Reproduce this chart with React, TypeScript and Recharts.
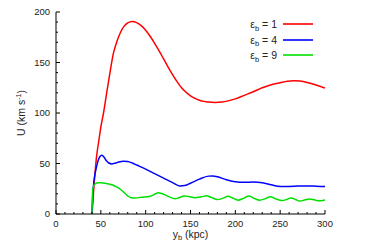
import { LineChart, Line, XAxis, YAxis, Legend } from 'recharts';

// U(y_b) curves for three epsilon_b values
const red1 = [
  { x: 40, y: 0 }, { x: 41, y: 10 }, { x: 42, y: 24 }, { x: 43, y: 35 }, { x: 45, y: 55 },
  { x: 48, y: 74 }, { x: 50, y: 86 }, { x: 53, y: 100 }, { x: 56, y: 117 }, { x: 60, y: 139 },
  { x: 64, y: 159 }, { x: 68, y: 171 }, { x: 72, y: 180 }, { x: 76, y: 186 }, { x: 80, y: 189.3 },
  { x: 85, y: 190.7 }, { x: 90, y: 189.5 }, { x: 95, y: 186.5 }, { x: 100, y: 182 }, { x: 105, y: 176 },
  { x: 110, y: 169 }, { x: 115, y: 161.5 }, { x: 120, y: 153.5 }, { x: 125, y: 145.5 }, { x: 130, y: 138 },
  { x: 135, y: 131 }, { x: 140, y: 125 }, { x: 145, y: 120.5 }, { x: 150, y: 117 }, { x: 155, y: 114.5 },
  { x: 160, y: 112.7 }, { x: 165, y: 111.5 }, { x: 170, y: 110.8 }, { x: 177, y: 110.4 }, { x: 185, y: 110.8 },
  { x: 192, y: 112 }, { x: 200, y: 114 }, { x: 210, y: 117.5 }, { x: 220, y: 121 }, { x: 230, y: 125 },
  { x: 240, y: 128 }, { x: 250, y: 130 }, { x: 258, y: 131.5 }, { x: 265, y: 132 }, { x: 272, y: 131.6 },
  { x: 280, y: 130.3 }, { x: 290, y: 127.8 }, { x: 300, y: 124.6 },
];

const blue4 = [
  { x: 40, y: 0 }, { x: 41, y: 18 }, { x: 42, y: 30 }, { x: 43, y: 37 }, { x: 45, y: 46 },
  { x: 47, y: 53 }, { x: 49, y: 57 }, { x: 51, y: 58.2 }, { x: 53, y: 57 }, { x: 56, y: 53 },
  { x: 59, y: 50.5 }, { x: 62, y: 49.6 }, { x: 66, y: 50.3 }, { x: 70, y: 51.5 }, { x: 75, y: 52.3 },
  { x: 80, y: 52 }, { x: 85, y: 50.5 }, { x: 90, y: 48.5 }, { x: 100, y: 44.5 }, { x: 110, y: 40 },
  { x: 120, y: 35.5 }, { x: 130, y: 31 }, { x: 138, y: 27.8 }, { x: 145, y: 28.5 }, { x: 150, y: 30.5 },
  { x: 160, y: 34.5 }, { x: 170, y: 37.5 }, { x: 175, y: 37.7 }, { x: 180, y: 36.8 }, { x: 190, y: 34 },
  { x: 200, y: 32 }, { x: 210, y: 31.5 }, { x: 220, y: 31.6 }, { x: 230, y: 31 }, { x: 240, y: 29 },
  { x: 250, y: 27.2 }, { x: 260, y: 27.3 }, { x: 270, y: 27.6 }, { x: 280, y: 27.8 }, { x: 290, y: 27.5 },
  { x: 300, y: 27.2 },
];

const green9 = [
  { x: 40, y: 0 }, { x: 40.5, y: 15 }, { x: 41, y: 24 }, { x: 42, y: 28 }, { x: 44, y: 30 },
  { x: 47, y: 31 }, { x: 50, y: 31 }, { x: 55, y: 30.5 }, { x: 60, y: 29.5 }, { x: 65, y: 28 },
  { x: 70, y: 25.5 }, { x: 75, y: 22 }, { x: 80, y: 18 }, { x: 84, y: 16 }, { x: 88, y: 15.8 },
  { x: 95, y: 16.5 }, { x: 105, y: 17.5 }, { x: 110, y: 19.5 }, { x: 114, y: 21 }, { x: 118, y: 20.3 },
  { x: 125, y: 17.5 }, { x: 133, y: 15.2 }, { x: 137, y: 16 }, { x: 143, y: 17.8 }, { x: 148, y: 17.3 },
  { x: 155, y: 16.2 }, { x: 162, y: 17 }, { x: 168, y: 18 }, { x: 173, y: 16.5 }, { x: 180, y: 14.3 },
  { x: 186, y: 15.5 }, { x: 192, y: 17.5 }, { x: 197, y: 15.8 }, { x: 203, y: 13.7 }, { x: 209, y: 15.5 },
  { x: 215, y: 17.8 }, { x: 221, y: 15.5 }, { x: 227, y: 13.7 }, { x: 233, y: 15 }, { x: 239, y: 17.2 },
  { x: 245, y: 15 }, { x: 252, y: 13.3 }, { x: 257, y: 14.3 }, { x: 262, y: 15.8 }, { x: 267, y: 14.4 },
  { x: 272, y: 12.8 }, { x: 278, y: 14 }, { x: 283, y: 14.8 }, { x: 288, y: 14 }, { x: 293, y: 13 },
  { x: 300, y: 14 },
];

const xMajorTicks = [0, 50, 100, 150, 200, 250, 300];
const yMajorTicks = [0, 50, 100, 150, 200];
const legendLabels = ['1', '4', '9'];
const seriesColors = ['#ff0000', '#0000ff', '#00e000'];

// minor ticks every 10 units, majors get labels
const xTicks: number[] = [];
for (let v = 0; v <= 300; v += 10) xTicks.push(v);
const yTicks: number[] = [];
for (let v = 0; v <= 200; v += 10) yTicks.push(v);

const FONT = '"Liberation Sans", Arial, sans-serif';
const TEXT = '#222';

function tickLen(v: number, majors: number[]) {
  return majors.includes(v) ? 4 : 2;
}

function BottomTick(props: any) {
  const { x, y, payload } = props;
  const major = xMajorTicks.includes(payload.value);
  return (
    <g>
      <line x1={x} x2={x} y1={y} y2={y - tickLen(payload.value, xMajorTicks)} stroke="#000" />
      {major && (
        <text x={x} y={y + 12.5} textAnchor="middle" fontSize={9.5} fill={TEXT} fontFamily={FONT}>
          {payload.value}
        </text>
      )}
    </g>
  );
}

function TopTick(props: any) {
  const { x, y, payload } = props;
  return <line x1={x} x2={x} y1={y} y2={y + tickLen(payload.value, xMajorTicks)} stroke="#000" />;
}

function LeftTick(props: any) {
  const { x, y, payload } = props;
  const major = yMajorTicks.includes(payload.value);
  return (
    <g>
      <line x1={x} x2={x + tickLen(payload.value, yMajorTicks)} y1={y} y2={y} stroke="#000" />
      {major && (
        <text x={x - 6} y={y + 3.4} textAnchor="end" fontSize={9.5} fill={TEXT} fontFamily={FONT}>
          {payload.value}
        </text>
      )}
    </g>
  );
}

function RightTick(props: any) {
  const { x, y, payload } = props;
  return <line x1={x} x2={x - tickLen(payload.value, yMajorTicks)} y1={y} y2={y} stroke="#000" />;
}

function XTitle(props: any) {
  const { viewBox } = props;
  const cx = viewBox.x + viewBox.width / 2;
  return (
    <text x={cx} y={237.5} textAnchor="middle" fontSize={10.5} fill={TEXT} fontFamily={FONT}>
      y<tspan fontSize={7.5} dy={2.5}>b</tspan>
      <tspan dy={-2.5}> (kpc)</tspan>
    </text>
  );
}

function YTitle(props: any) {
  const { viewBox } = props;
  const cy = viewBox.y + viewBox.height / 2;
  return (
    <text
      x={24.5}
      y={cy}
      transform={`rotate(-90, 24.5, ${cy})`}
      textAnchor="middle"
      fontSize={10.5}
      fill={TEXT}
      fontFamily={FONT}
    >
      U (km s<tspan fontSize={7} dy={-4}>-1</tspan>
      <tspan dy={4}>)</tspan>
    </text>
  );
}

function LegendBox() {
  return (
    <div style={{ fontFamily: FONT, fontSize: 10.5, color: TEXT }}>
      {legendLabels.map((lab, i) => (
        <div key={lab} style={{ display: 'flex', alignItems: 'center', height: 15.5 }}>
          <div style={{ width: 47, textAlign: 'right', whiteSpace: 'nowrap' }}>
            ε<span style={{ fontSize: 7.5, position: 'relative', top: 2.5 }}>b</span> = {lab}
          </div>
          <svg width={36} height={6} style={{ marginLeft: 6 }}>
            <line x1={0} x2={30} y1={3} y2={3} stroke={seriesColors[i]} strokeWidth={1.6} />
          </svg>
        </div>
      ))}
    </div>
  );
}

export default function App() {
  return (
    <div style={{ position: 'absolute', left: 0, top: 0, background: '#fff' }}>
      <LineChart width={374} height={249} margin={{ top: 12, right: 49, bottom: 0, left: 0 }}>
        <XAxis
          dataKey="x"
          type="number"
          domain={[0, 300]}
          ticks={xTicks}
          interval={0}
          height={35}
          tickLine={false}
          tickSize={0}
          tickMargin={0}
          axisLine={{ stroke: '#000' }}
          tick={(p: any) => <BottomTick {...p} />}
          label={<XTitle />}
          allowDataOverflow
        />
        <XAxis
          xAxisId="top"
          orientation="top"
          dataKey="x"
          type="number"
          domain={[0, 300]}
          ticks={xTicks}
          interval={0}
          height={0}
          tickLine={false}
          tickSize={0}
          tickMargin={0}
          axisLine={{ stroke: '#000' }}
          tick={(p: any) => <TopTick {...p} />}
        />
        <YAxis
          type="number"
          domain={[0, 200]}
          ticks={yTicks}
          interval={0}
          width={56}
          tickLine={false}
          tickSize={0}
          tickMargin={0}
          axisLine={{ stroke: '#000' }}
          tick={(p: any) => <LeftTick {...p} />}
          label={<YTitle />}
          allowDataOverflow
        />
        <YAxis
          yAxisId="right"
          orientation="right"
          type="number"
          domain={[0, 200]}
          ticks={yTicks}
          interval={0}
          width={0}
          tickLine={false}
          tickSize={0}
          tickMargin={0}
          axisLine={{ stroke: '#000' }}
          tick={(p: any) => <RightTick {...p} />}
        />
        <Legend
          layout="vertical"
          align="center"
          verticalAlign="middle"
          wrapperStyle={{ left: 230, top: 16.25, width: 100 }}
          content={() => <LegendBox />}
        />
        <Line data={red1} dataKey="y" type="monotone" stroke={seriesColors[0]} strokeWidth={1.5} dot={false} isAnimationActive={false} />
        <Line data={blue4} dataKey="y" type="monotone" stroke={seriesColors[1]} strokeWidth={1.5} dot={false} isAnimationActive={false} />
        <Line data={green9} dataKey="y" type="monotone" stroke={seriesColors[2]} strokeWidth={1.5} dot={false} isAnimationActive={false} />
      </LineChart>
    </div>
  );
}
